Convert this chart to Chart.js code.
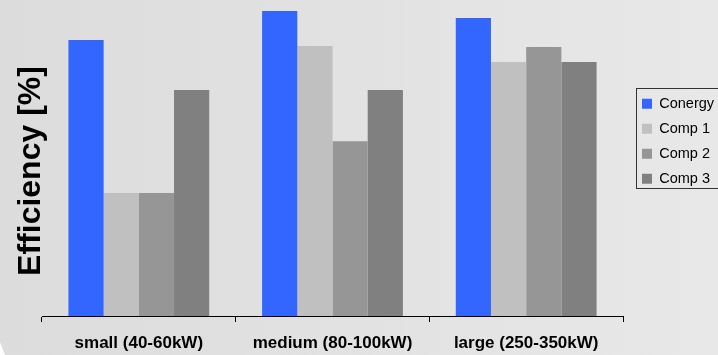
<!DOCTYPE html>
<html>
<head>
<meta charset="utf-8">
<script src="https://cdn.jsdelivr.net/npm/chart.js@4.4.1/dist/chart.umd.min.js"></script>
<style>
  html, body { margin: 0; padding: 0; background: #ffffff; }
  canvas { display: block; }
</style>
</head>
<body>
<canvas id="chart" width="718" height="355"></canvas>
<script>
// Inverter size classes and relative efficiency per manufacturer
const categories = ['small (40-60kW)', 'medium (80-100kW)', 'large (250-350kW)'];
const seriesNames = ['Conergy', 'Comp 1', 'Comp 2', 'Comp 3'];
const conergy = [95.2, 105.2, 102.8];
const comp1 = [42.4, 93.1, 87.6];
const comp2 = [42.4, 60.3, 92.8];
const comp3 = [77.9, 77.9, 87.6];
const yAxisTitle = 'Efficiency [%]';

const seriesValues = [conergy, comp1, comp2, comp3];
const seriesColors = ['#3366ff', '#c0c0c0', '#969696', '#808080'];

Chart.defaults.font.family = '"Liberation Sans", Arial, sans-serif';
Chart.defaults.color = '#000000';

// Grey panel with a soft left-to-right shade
const panelBackground = {
  id: 'panelBackground',
  beforeDraw(chart) {
    const { ctx, width, height } = chart;
    ctx.save();
    ctx.fillStyle = '#ffffff';
    ctx.fillRect(0, 0, width, height);
    const g = ctx.createLinearGradient(0, 0, width, 0);
    g.addColorStop(0, '#dcdcdc');
    g.addColorStop(1, '#e8e8e8');
    ctx.fillStyle = g;
    ctx.beginPath();
    ctx.moveTo(0, 0);
    ctx.lineTo(width, 0);
    ctx.lineTo(width, height);
    ctx.lineTo(5, height);
    ctx.lineTo(0, height - 13);
    ctx.closePath();
    ctx.fill();
    ctx.restore();
  }
};

// Places the legend to the right of the plot and frames it
const legendFrame = {
  id: 'legendFrame',
  afterLayout(chart, args, opts) {
    const lg = chart.legend;
    if (!lg) return;
    const w = lg.width, h = lg.height;
    lg.left = opts.x; lg.right = opts.x + w;
    lg.top = opts.y; lg.bottom = opts.y + h;
  },
  afterDraw(chart, args, opts) {
    const lg = chart.legend;
    if (!lg || !lg.legendHitBoxes || !lg.legendHitBoxes.length) return;
    const boxes = lg.legendHitBoxes;
    const first = boxes[0], last = boxes[boxes.length - 1];
    const left = Math.round(first.left - 6) + 0.5;
    const top = Math.round(first.top - 9) + 0.5;
    const bottom = Math.round(last.top + last.height + 2) + 0.5;
    const { ctx } = chart;
    ctx.save();
    ctx.strokeStyle = '#333333';
    ctx.lineWidth = 1;
    ctx.strokeRect(left, top, chart.width + 4 - left, bottom - top);
    ctx.restore();
  }
};

new Chart(document.getElementById('chart'), {
  type: 'bar',
  data: {
    labels: categories,
    datasets: seriesNames.map((name, i) => ({
      label: name,
      data: seriesValues[i],
      backgroundColor: seriesColors[i],
      borderColor: seriesColors[i],
      borderWidth: 0,
      barPercentage: 1.0,
      categoryPercentage: 0.727,
      clip: false
    }))
  },
  options: {
    responsive: false,
    animation: false,
    devicePixelRatio: 1,
    layout: { padding: { left: 0, right: 95, top: 26, bottom: 0 } },
    scales: {
      x: {
        afterFit(scale) { scale.height = 39; },
        grid: {
          display: true,
          drawOnChartArea: false,
          drawTicks: true,
          tickLength: 6,
          tickColor: '#000000',
          offset: true
        },
        border: { display: true, color: '#000000', width: 1 },
        ticks: {
          color: '#000000',
          padding: 11,
          font: { size: 17, weight: 'bold' }
        }
      },
      y: {
        min: 0,
        max: 100,
        grid: { display: false, drawTicks: false },
        border: { display: false },
        ticks: { display: false },
        title: {
          display: true,
          text: yAxisTitle,
          color: '#000000',
          font: { size: 32, weight: 'bold', lineHeight: 0.6 },
          padding: { top: 21.3, bottom: 1.5 }
        }
      }
    },
    plugins: {
      legend: {
        display: true,
        position: 'chartArea',
        align: 'start',
        labels: {
          boxWidth: 10,
          boxHeight: 10,
          padding: 10.5,
          color: '#000000',
          font: { size: 14.5 }
        }
      },
      tooltip: { enabled: false },
      legendFrame: { x: 631.5, y: 86 }
    }
  },
  plugins: [panelBackground, legendFrame]
});
</script>
</body>
</html>
